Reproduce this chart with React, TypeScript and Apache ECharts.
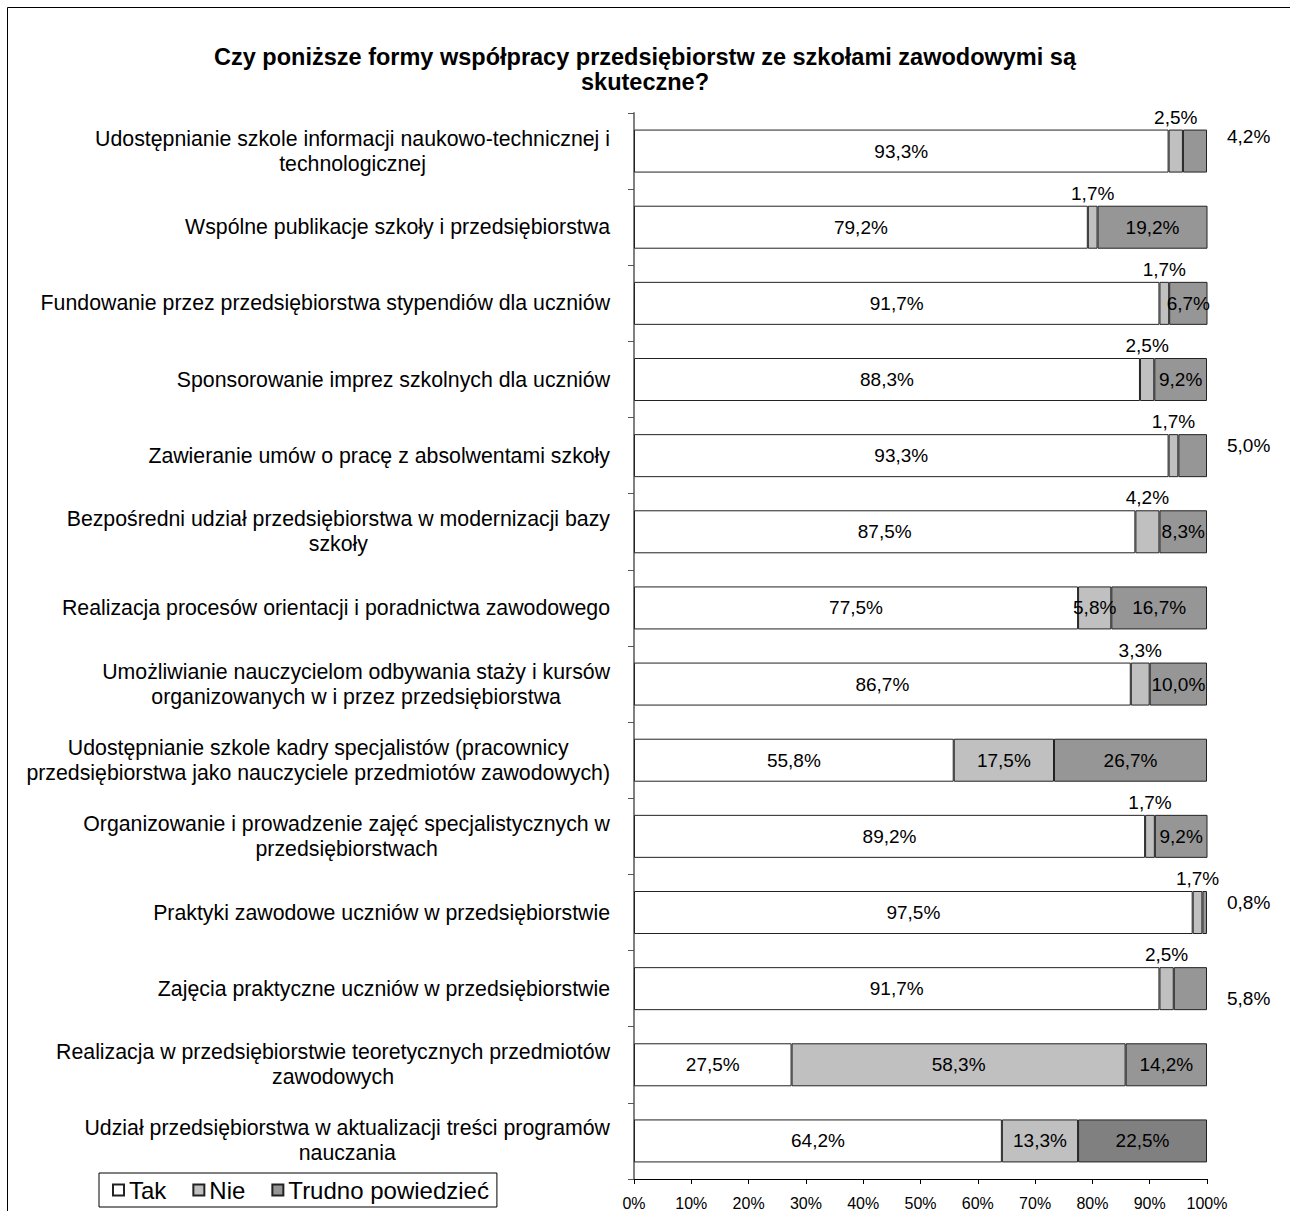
import React, { useEffect, useRef } from 'react';
import * as echarts from 'echarts';

const FONT = '"Liberation Sans", Arial, Helvetica, sans-serif';

const titleText =
  'Czy poniższe formy współpracy przedsiębiorstw ze szkołami zawodowymi są\nskuteczne?';

const categories = [
  'Udostępnianie szkole informacji naukowo-technicznej i\ntechnologicznej',
  'Wspólne publikacje szkoły i przedsiębiorstwa',
  'Fundowanie przez przedsiębiorstwa stypendiów dla uczniów',
  'Sponsorowanie imprez szkolnych dla uczniów',
  'Zawieranie umów o pracę z absolwentami szkoły',
  'Bezpośredni udział przedsiębiorstwa w modernizacji bazy\nszkoły',
  'Realizacja procesów orientacji i poradnictwa zawodowego',
  'Umożliwianie nauczycielom odbywania staży i kursów\norganizowanych w i przez przedsiębiorstwa',
  'Udostępnianie szkole kadry specjalistów (pracownicy\nprzedsiębiorstwa jako nauczyciele przedmiotów zawodowych)',
  'Organizowanie i prowadzenie zajęć specjalistycznych w\nprzedsiębiorstwach',
  'Praktyki zawodowe uczniów w przedsiębiorstwie',
  'Zajęcia praktyczne uczniów w przedsiębiorstwie',
  'Realizacja w przedsiębiorstwie teoretycznych przedmiotów\nzawodowych',
  'Udział przedsiębiorstwa w aktualizacji treści programów\nnauczania',
];

const seriesNames = ['Tak', 'Nie', 'Trudno powiedzieć'];

const takValues = [93.3, 79.2, 91.7, 88.3, 93.3, 87.5, 77.5, 86.7, 55.8, 89.2, 97.5, 91.7, 27.5, 64.2];
const nieValues = [2.5, 1.7, 1.7, 2.5, 1.7, 4.2, 5.8, 3.3, 17.5, 1.7, 1.7, 2.5, 58.3, 13.3];
const trudnoValues = [4.2, 19.2, 6.7, 9.2, 5.0, 8.3, 16.7, 10.0, 26.7, 9.2, 0.8, 5.8, 14.2, 22.5];

const xTickValues = [0, 10, 20, 30, 40, 50, 60, 70, 80, 90, 100];

// styling
const seriesColors = ['#ffffff', '#c0c0c0', '#969696'];
const darkerTrudnoRow = 13;
const trudnoOutsideDy: Record<number, number> = { 0: -15, 4: -10, 10: -10, 11: 10 };

const fmt = (v: number) => v.toFixed(1).replace('.', ',') + '%';

function buildOption() {
  const labelBase = {
    show: true,
    position: 'inside',
    color: '#000',
    fontSize: 19,
    fontFamily: FONT,
    formatter: (p: any) => fmt(p.value),
  };

  const takData = takValues.map((v) => ({ value: v }));
  const nieData = nieValues.map((v) =>
    v < 5 ? { value: v, label: { position: 'top', distance: 3 } } : { value: v }
  );
  const trudnoData = trudnoValues.map((v, i) => {
    const item: any = { value: v };
    if (v < 6) {
      item.label = { position: 'right', distance: 20, offset: [0, trudnoOutsideDy[i] || 0] };
    }
    if (i === darkerTrudnoRow) item.itemStyle = { color: '#808080' };
    return item;
  });

  const dataSets = [takData, nieData, trudnoData];

  return {
    animation: false,
    backgroundColor: '#ffffff',
    textStyle: { fontFamily: FONT, color: '#000' },
    title: {
      text: titleText,
      left: 640,
      top: 39,
      textAlign: 'center',
      textStyle: { fontSize: 23.5, fontWeight: 'bold', color: '#000', lineHeight: 25, fontFamily: FONT },
    },
    graphic: [
      {
        type: 'rect',
        shape: { x: 7.5, y: 7.5, width: 1400, height: 1400 },
        style: { fill: 'none', stroke: '#000', lineWidth: 1 },
        silent: true,
        z: 100,
      },
    ],
    legend: {
      data: seriesNames,
      left: 99,
      top: 1173,
      orient: 'horizontal',
      icon: 'rect',
      itemWidth: 11,
      itemHeight: 11,
      itemGap: 26,
      padding: [5, 8, 5, 13],
      borderColor: '#000',
      borderWidth: 1,
      textStyle: { fontSize: 24, color: '#000', fontFamily: FONT },
    },
    grid: { left: 634, right: 83, top: 113, bottom: 32, containLabel: false },
    xAxis: {
      type: 'value',
      min: 0,
      max: 100,
      interval: 10,
      axisLine: { show: true, lineStyle: { color: '#000', width: 1 } },
      axisTick: { show: true, length: 5, inside: false, lineStyle: { color: '#000' } },
      splitLine: { show: false },
      axisLabel: {
        color: '#000',
        fontSize: 16,
        fontFamily: FONT,
        margin: 16,
        formatter: (v: number) => (xTickValues.includes(v) ? v + '%' : ''),
      },
    },
    yAxis: {
      type: 'category',
      inverse: true,
      data: categories,
      axisLine: { show: true, lineStyle: { color: '#808080', width: 2 } },
      axisTick: { show: true, length: 6, inside: false, alignWithLabel: false, lineStyle: { color: '#555' } },
      axisLabel: {
        margin: 24,
        align: 'right',
        color: '#000',
        fontSize: 21.3,
        fontFamily: FONT,
        formatter: (v: string) =>
          v
            .split('\n')
            .map((line) => '{c|' + line + '}')
            .join('\n'),
        rich: {
          c: { align: 'center', fontSize: 21.3, lineHeight: 25, color: '#000', fontFamily: FONT },
        },
      },
    },
    series: seriesNames.map((name, s) => ({
      name,
      type: 'bar',
      stack: 'total',
      barWidth: 43,
      itemStyle: { color: seriesColors[s], borderColor: '#222', borderWidth: 1 },
      label: labelBase,
      data: dataSets[s],
    })),
  };
}

export default function App() {
  const ref = useRef<HTMLDivElement>(null);
  useEffect(() => {
    const chart = echarts.init(ref.current!, null, { renderer: 'svg' });
    chart.setOption(buildOption() as any);
    return () => chart.dispose();
  }, []);
  return (
    <div
      ref={ref}
      style={{ position: 'fixed', left: 0, top: 0, width: 1290, height: 1211, background: '#fff' }}
    />
  );
}
